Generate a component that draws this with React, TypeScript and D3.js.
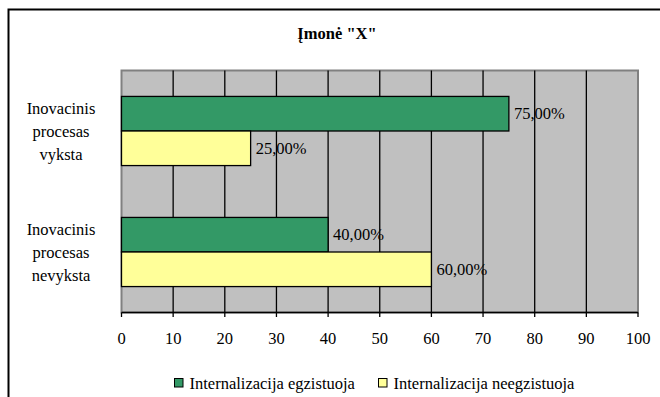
import React from "react";
import * as d3 from "d3";

const title = 'Įmonė "X"';
const categories = ["Inovacinis procesas vyksta", "Inovacinis procesas nevyksta"];
const categoryLines = [["Inovacinis", "procesas", "vyksta"], ["Inovacinis", "procesas", "nevyksta"]];
const seriesNames = ["Internalizacija egzistuoja", "Internalizacija neegzistuoja"];
const seriesColors = ["#339966", "#FFFF99"];
const egzistuoja = [75, 40];
const neegzistuoja = [25, 60];
const xTicks = [0, 10, 20, 30, 40, 50, 60, 70, 80, 90, 100];

const W = 660;
const H = 397;
const plot = { left: 121.5, right: 638, top: 70.5, bottom: 312.5 };
const FONT = "Liberation Serif, Times New Roman, DejaVu Serif, serif";
const FS = 16.5;
const ts: React.CSSProperties = { fontFamily: FONT, fontSize: FS };

export default function App() {
  const x = d3.scaleLinear().domain([0, 100]).range([plot.left, plot.right]);
  const band = d3.scaleBand<string>().domain(categories).range([plot.top, plot.bottom]).paddingInner(0).paddingOuter(0);
  const bw = band.bandwidth();
  const barH = bw / (2 + 1.5);
  const series = [egzistuoja, neegzistuoja];
  const fmt = (v: number) => v.toFixed(2).replace(".", ",") + "%";

  return (
    <svg width={W} height={H} style={{ position: "absolute", left: 0, top: 0, background: "#fff", fontFamily: FONT }}>
      <rect x={8.5} y={9.5} width={W + 10} height={H + 10} fill="#fff" stroke="#000" strokeWidth={2} />
      <text x={337} y={38.5} textAnchor="middle" style={{ ...ts, fontWeight: "bold" }}>{title}</text>
      <rect x={plot.left} y={plot.top} width={plot.right - plot.left} height={plot.bottom - plot.top} fill="#C0C0C0" stroke="#808080" strokeWidth={2} />
      {xTicks.slice(1, -1).map((t) => (
        <line key={t} x1={x(t)} x2={x(t)} y1={plot.top} y2={plot.bottom} stroke="#000" strokeWidth={1.3} />
      ))}
      {categories.map((c, ci) => {
        const y0 = (band(c) as number) + bw / 2 - barH;
        return (
          <g key={c}>
            {series.map((s, si) => {
              const y = y0 + si * barH;
              return (
                <g key={si}>
                  <rect x={x(0)} y={y} width={x(s[ci]) - x(0)} height={barH} fill={seriesColors[si]} stroke="#000" strokeWidth={1.3} />
                  <text x={x(s[ci]) + 5} y={y + barH / 2 + 5.5} style={ts}>{fmt(s[ci])}</text>
                </g>
              );
            })}
            {categoryLines[ci].map((ln, li) => (
              <text key={li} x={61} y={(band(c) as number) + bw / 2 + 5.5 + (li - 1) * 23} textAnchor="middle" style={ts}>{ln}</text>
            ))}
          </g>
        );
      })}
      <line x1={plot.left} x2={plot.right} y1={plot.bottom} y2={plot.bottom} stroke="#000" strokeWidth={1.3} />
      {xTicks.map((t) => (
        <g key={t}>
          <line x1={x(t)} x2={x(t)} y1={plot.bottom} y2={plot.bottom + 4.5} stroke="#000" strokeWidth={1.3} />
          <text x={x(t)} y={344} textAnchor="middle" style={ts}>{t}</text>
        </g>
      ))}
      {[174.5, 378.5].map((lx, i) => (
        <g key={i}>
          <rect x={lx} y={378.5} width={8.5} height={8.5} fill={seriesColors[i]} stroke="#000" strokeWidth={1} />
          <text x={lx + 15} y={388.5} style={ts}>{seriesNames[i]}</text>
        </g>
      ))}
    </svg>
  );
}
